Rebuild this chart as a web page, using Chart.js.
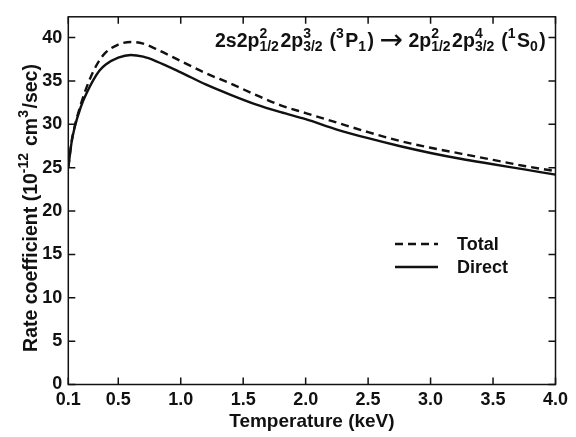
<!DOCTYPE html>
<html>
<head>
<meta charset="utf-8">
<script src="https://cdn.jsdelivr.net/npm/chart.js@4.4.0/dist/chart.umd.min.js"></script>
<style>
  body { margin: 0; background: #fff; }
  canvas { display: block; }
</style>
</head>
<body>
<canvas id="rateChart" width="576" height="437"></canvas>
<script>
// values
const temperatures = [0.1, 0.125, 0.15, 0.2, 0.25, 0.3, 0.35, 0.4, 0.5, 0.6, 0.7, 0.8, 1.0, 1.2, 1.4, 1.6, 1.8, 2.0, 2.25, 2.5, 2.75, 3.0, 3.25, 3.5, 3.75, 4.0];
const totalRate  = [25.0, 27.9, 29.7, 32.3, 34.4, 36.1, 37.4, 38.3, 39.2, 39.5, 39.3, 38.7, 37.3, 35.9, 34.7, 33.4, 32.2, 31.3, 30.2, 29.1, 28.1, 27.3, 26.6, 25.9, 25.2, 24.6];
const directRate = [25.0, 27.8, 29.6, 32.0, 33.7, 35.1, 36.2, 36.9, 37.7, 38.0, 37.8, 37.3, 36.0, 34.6, 33.4, 32.3, 31.4, 30.6, 29.4, 28.4, 27.5, 26.7, 26.0, 25.4, 24.8, 24.2];
const xTicks = [0.1, 0.5, 1.0, 1.5, 2.0, 2.5, 3.0, 3.5, 4.0];
const yTicks = [0, 5, 10, 15, 20, 25, 30, 35, 40];

const FONT = '"Liberation Sans", Arial, Helvetica, sans-serif';
const INK = '#111';

// text with stacked super/subscripts; returns the width
function richText(ctx, parts, x, y, size, draw) {
    let cx = x;
    parts.forEach(p => {
        if (typeof p === 'string') {
            ctx.font = 'bold ' + size + 'px ' + FONT;
            if (draw) ctx.fillText(p, cx, y);
            cx += ctx.measureText(p).width;
        } else if (p.big) {
            // long thin arrow
            ctx.font = Math.round(size * 1.45) + 'px "DejaVu Sans", sans-serif';
            if (draw) ctx.fillText(p.big, cx, y + size * 0.1);
            cx += ctx.measureText(p.big).width;
        } else {
            const small = Math.round(size * 0.7);
            ctx.font = 'bold ' + small + 'px ' + FONT;
            let w = 0;
            if (p.sup) {
                if (draw) ctx.fillText(p.sup, cx, y - size * 0.45);
                w = ctx.measureText(p.sup).width;
            }
            if (p.sub) {
                if (draw) ctx.fillText(p.sub, cx, y + size * 0.22);
                w = Math.max(w, ctx.measureText(p.sub).width);
            }
            cx += w + 1.5;
        }
    });
    return cx - x;
}

const transition = ['2s2p', {sup: '2', sub: '1/2'}, '2p', {sup: '3', sub: '3/2'}, ' (', {sup: '3'}, 'P', {sub: '1'}, ') ', {big: '\u2192'}, ' 2p',
    {sup: '2', sub: '1/2'}, '2p', {sup: '4', sub: '3/2'}, ' (', {sup: '1'}, 'S', {sub: '0'}, ')'];
const yTitle = ['Rate coefficient (10', {sup: '-12'}, ' cm', {sup: '3'}, '/sec)'];

const framePlugin = {
    id: 'frame',
    afterDraw(chart) {
        const {ctx, chartArea: a, scales: {x, y}} = chart;
        ctx.save();
        ctx.strokeStyle = INK;
        ctx.fillStyle = INK;
        ctx.lineWidth = 1.5;
        ctx.strokeRect(a.left, a.top, a.right - a.left, a.bottom - a.top);

        // inward ticks on all four sides
        ctx.beginPath();
        xTicks.forEach(v => {
            const px = x.getPixelForValue(v);
            ctx.moveTo(px, a.bottom); ctx.lineTo(px, a.bottom - 7);
            ctx.moveTo(px, a.top); ctx.lineTo(px, a.top + 7);
        });
        yTicks.forEach(v => {
            const py = y.getPixelForValue(v);
            ctx.moveTo(a.left, py); ctx.lineTo(a.left + 7, py);
            ctx.moveTo(a.right, py); ctx.lineTo(a.right - 7, py);
        });
        ctx.stroke();

        ctx.textBaseline = 'alphabetic';
        ctx.textAlign = 'left';

        // x axis title
        ctx.font = 'bold 19px ' + FONT;
        const xt = 'Temperature (keV)';
        ctx.fillText(xt, (a.left + a.right) / 2 - ctx.measureText(xt).width / 2, 427);

        // y axis title, rotated
        ctx.save();
        ctx.translate(37, 208);
        ctx.rotate(-Math.PI / 2);
        const w = richText(ctx, yTitle, 0, 0, 19.5, false);
        richText(ctx, yTitle, -w / 2, 0, 19.5, true);
        ctx.restore();

        // transition label
        richText(ctx, transition, 215, 47, 19.5, true);

        // legend
        ctx.lineWidth = 2.4;
        ctx.setLineDash([8, 5]);
        ctx.beginPath(); ctx.moveTo(395, 244); ctx.lineTo(438, 244); ctx.stroke();
        ctx.setLineDash([]);
        ctx.beginPath(); ctx.moveTo(395, 267); ctx.lineTo(438, 267); ctx.stroke();
        ctx.font = 'bold 18px ' + FONT;
        ctx.fillText('Total', 457, 250);
        ctx.fillText('Direct', 457, 273);
        ctx.restore();
    }
};

const tickFont = {family: FONT, size: 18, weight: 'bold'};

new Chart(document.getElementById('rateChart'), {
    type: 'line',
    data: {
        datasets: [{
            label: 'Total',
            data: temperatures.map((t, i) => ({x: t, y: totalRate[i]})),
            borderColor: INK,
            borderWidth: 2.4,
            borderDash: [8, 5],
            pointRadius: 0,
            cubicInterpolationMode: 'monotone',
            fill: false
        }, {
            label: 'Direct',
            data: temperatures.map((t, i) => ({x: t, y: directRate[i]})),
            borderColor: INK,
            borderWidth: 2.4,
            pointRadius: 0,
            cubicInterpolationMode: 'monotone',
            fill: false
        }]
    },
    options: {
        responsive: false,
        animation: false,
        devicePixelRatio: 1,
        layout: {padding: {top: 4.5, right: 20.5, left: 0, bottom: 0}},
        plugins: {
            legend: {display: false},
            tooltip: {enabled: false}
        },
        scales: {
            x: {
                type: 'linear',
                min: 0.1,
                max: 4.0,
                afterBuildTicks: s => { s.ticks = xTicks.map(v => ({value: v})); },
                afterFit: s => { s.height = 52.5; },
                grid: {display: false, drawTicks: false},
                border: {display: false},
                ticks: {
                    padding: 5,
                    color: INK,
                    font: tickFont,
                    maxRotation: 0,
                    autoSkip: false,
                    callback: v => v.toFixed(1)
                }
            },
            y: {
                type: 'linear',
                min: 0,
                max: 42.4,
                afterBuildTicks: s => { s.ticks = yTicks.map(v => ({value: v})); },
                afterFit: s => { s.width = 68.3; },
                grid: {display: false, drawTicks: false},
                border: {display: false},
                ticks: {
                    padding: 6,
                    color: INK,
                    font: tickFont
                }
            }
        }
    },
    plugins: [framePlugin]
});
</script>
</body>
</html>
